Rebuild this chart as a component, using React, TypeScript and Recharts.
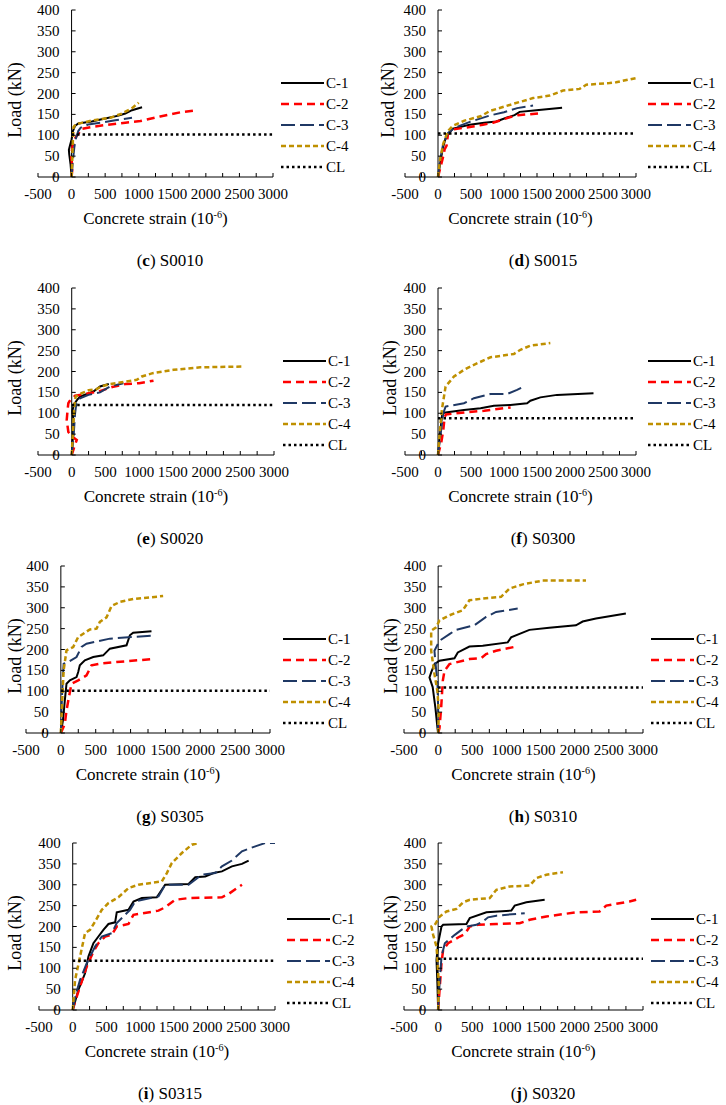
import React from 'react';
import { LineChart, Line, XAxis, YAxis, ReferenceLine } from 'recharts';

const FONT = '"Liberation Serif", "Times New Roman", serif';

// axis ticks
const xTicks = [-500, -250, 0, 250, 500, 750, 1000, 1250, 1500, 1750, 2000, 2250, 2500, 2750, 3000];
const yTicks = [0, 50, 100, 150, 200, 250, 300, 350, 400];
const seriesNames = ['C-1', 'C-2', 'C-3', 'C-4', 'CL'];

type Pt = [number, number];

// (c) S0010
const c_C1: Pt[] = [[0, 0], [-15, 30], [-35, 55], [-40, 65], [-25, 75], [0, 90], [20, 110], [50, 122], [100, 128], [300, 133], [500, 140], [700, 147], [800, 152], [900, 160], [1050, 167]];
const c_C2: Pt[] = [[0, 0], [15, 25], [-5, 45], [10, 70], [40, 90], [110, 106], [140, 115], [300, 120], [530, 125], [800, 130], [1025, 134], [1320, 145], [1620, 155], [1870, 160]];
const c_C3: Pt[] = [[0, 0], [20, 40], [40, 70], [60, 90], [100, 110], [135, 118], [250, 126], [430, 130], [650, 136], [900, 142]];
const c_C4: Pt[] = [[0, 0], [10, 40], [20, 90], [30, 120], [60, 126], [134, 129], [300, 135], [580, 142], [750, 152], [900, 165], [1000, 178]];
const c_CL = 102;

// (d) S0015
const d_C1: Pt[] = [[0, 0], [40, 40], [75, 70], [110, 90], [150, 102], [227, 116], [480, 125], [700, 130], [884, 133], [1035, 142], [1160, 148], [1237, 156], [1490, 160], [1880, 166]];
const d_C2: Pt[] = [[0, 0], [40, 25], [80, 50], [100, 66], [130, 75], [150, 102], [227, 114], [530, 121], [680, 125], [833, 130], [1085, 143], [1212, 148], [1515, 152]];
const d_C3: Pt[] = [[0, 0], [30, 40], [80, 80], [150, 105], [250, 118], [500, 133], [800, 148], [1000, 155], [1200, 165], [1440, 171]];
const d_C4: Pt[] = [[0, 0], [30, 40], [80, 80], [150, 110], [220, 122], [400, 135], [656, 146], [783, 158], [1136, 175], [1440, 189], [1692, 195], [1894, 207], [2146, 211], [2247, 221], [2600, 225], [2700, 227], [3000, 237]];
const d_CL = 104;

// (e) S0020
const e_C1: Pt[] = [[0, 0], [20, 50], [25, 84], [10, 105], [30, 120], [50, 125], [80, 132], [124, 140], [322, 152], [420, 164], [550, 170]];
const e_C2: Pt[] = [[0, 0], [50, 25], [75, 36], [40, 40], [-50, 55], [-74, 84], [-60, 110], [-50, 124], [-20, 132], [50, 142], [200, 146], [400, 152], [600, 163], [800, 170], [1000, 172], [1213, 178]];
const e_C3: Pt[] = [[0, 0], [30, 50], [50, 100], [70, 125], [124, 136], [250, 144], [420, 150], [570, 164], [767, 172]];
const e_C4: Pt[] = [[0, 0], [20, 60], [40, 120], [60, 140], [150, 148], [250, 155], [371, 158], [450, 165], [570, 170], [965, 180], [1040, 188], [1200, 196], [1510, 204], [1906, 210], [2550, 212]];
const e_CL = 120;

// (f) S0300
const f_C1: Pt[] = [[0, 0], [30, 50], [65, 100], [115, 102], [393, 108], [645, 112], [846, 118], [1098, 120], [1350, 124], [1400, 130], [1551, 138], [1803, 144], [2356, 148]];
const f_C2: Pt[] = [[0, 0], [50, 30], [80, 60], [100, 90], [120, 97], [400, 102], [700, 106], [900, 110], [1100, 114]];
const f_C3: Pt[] = [[0, 0], [40, 50], [80, 100], [115, 116], [393, 124], [544, 136], [795, 146], [1047, 146], [1198, 156], [1324, 166]];
const f_C4: Pt[] = [[0, 0], [30, 60], [60, 110], [115, 164], [242, 188], [393, 204], [544, 216], [795, 234], [1148, 242], [1249, 252], [1400, 262], [1702, 268]];
const f_CL = 88;

// (g) S0305
const g_C1: Pt[] = [[0, 0], [30, 30], [57, 78], [81, 118], [129, 126], [225, 134], [249, 146], [272, 162], [344, 174], [464, 182], [607, 186], [703, 202], [942, 210], [990, 234], [1037, 240], [1300, 244]];
const g_C2: Pt[] = [[0, 0], [57, 22], [81, 54], [120, 90], [153, 118], [249, 126], [368, 138], [440, 162], [559, 166], [798, 170], [1300, 177]];
const g_C3: Pt[] = [[0, 0], [10, 60], [25, 120], [40, 166], [105, 170], [225, 182], [296, 206], [368, 214], [703, 226], [1037, 230], [1300, 233]];
const g_C4: Pt[] = [[0, 0], [20, 80], [40, 150], [81, 198], [177, 206], [249, 230], [416, 248], [512, 250], [559, 266], [655, 277], [727, 304], [847, 314], [1037, 321], [1467, 328]];
const g_CL = 101;

// (h) S0310
const h_C1: Pt[] = [[0, 0], [-10, 12], [-40, 60], [-80, 110], [-127, 133], [-102, 145], [-54, 165], [20, 173], [239, 179], [288, 193], [458, 207], [653, 209], [1019, 217], [1068, 229], [1336, 247], [1628, 252], [2018, 258], [2116, 267], [2311, 274], [2749, 286]];
const h_C2: Pt[] = [[0, 0], [20, 12], [44, 60], [68, 125], [93, 149], [166, 165], [458, 177], [629, 179], [702, 189], [848, 197], [1141, 207]];
const h_C3: Pt[] = [[0, 0], [0, 60], [-10, 120], [-40, 170], [-54, 197], [20, 221], [166, 237], [263, 247], [531, 258], [702, 278], [848, 290], [1165, 298]];
const h_C4: Pt[] = [[0, 0], [10, 50], [-10, 100], [-54, 141], [-102, 197], [-102, 245], [-29, 253], [20, 270], [166, 282], [361, 294], [458, 318], [653, 322], [922, 326], [1044, 346], [1239, 356], [1531, 365], [2165, 365]];
const h_CL = 109;

// (i) S0315
const i_C1: Pt[] = [[0, 0], [84, 48], [183, 88], [233, 128], [307, 160], [381, 176], [455, 192], [530, 206], [629, 210], [653, 234], [827, 240], [901, 260], [1025, 268], [1247, 270], [1371, 300], [1718, 302], [1817, 318], [1965, 320], [2089, 328], [2213, 332], [2361, 344], [2510, 350], [2609, 358]];
const i_C2: Pt[] = [[0, 0], [35, 20], [109, 56], [208, 104], [307, 140], [381, 160], [480, 176], [579, 180], [653, 200], [827, 206], [901, 228], [1272, 238], [1371, 246], [1520, 264], [1718, 268], [2213, 270], [2312, 278], [2510, 300]];
const i_C3: Pt[] = [[0, 0], [50, 40], [109, 72], [208, 112], [332, 152], [431, 176], [579, 184], [653, 208], [851, 240], [926, 260], [1272, 272], [1371, 300], [1718, 300], [1916, 324], [2114, 328], [2213, 344], [2361, 358], [2510, 380], [2708, 392], [2856, 400], [3000, 400]];
const i_C4: Pt[] = [[0, 0], [35, 72], [109, 128], [183, 184], [257, 192], [332, 212], [431, 240], [530, 256], [678, 270], [827, 292], [975, 300], [1322, 308], [1396, 328], [1470, 352], [1619, 376], [1767, 396], [1866, 400]];
const i_CL = 118;

// (j) S0320
const j_C1: Pt[] = [[0, 0], [-10, 60], [-24, 120], [0, 160], [49, 200], [73, 204], [414, 206], [463, 220], [707, 234], [1072, 238], [1121, 250], [1292, 258], [1560, 264]];
const j_C2: Pt[] = [[0, 0], [24, 56], [49, 112], [73, 144], [146, 160], [317, 176], [390, 182], [463, 200], [585, 204], [853, 206], [1194, 208], [1341, 216], [1584, 224], [2023, 234], [2364, 236], [2462, 250], [2803, 260], [2900, 264]];
const j_C3: Pt[] = [[0, 0], [20, 60], [49, 128], [98, 160], [244, 180], [341, 192], [414, 200], [561, 204], [658, 212], [731, 222], [853, 226], [1268, 232]];
const j_C4: Pt[] = [[0, 0], [10, 60], [-10, 120], [-24, 152], [-73, 180], [-98, 200], [-49, 204], [24, 224], [122, 236], [268, 242], [366, 258], [463, 264], [756, 268], [853, 288], [1048, 296], [1341, 298], [1438, 316], [1584, 324], [1828, 330]];
const j_CL = 123;

const STYLES = [
  { stroke: '#000000', dash: undefined as string | undefined, width: 2 },
  { stroke: '#FF0000', dash: '8 5', width: 2.5 },
  { stroke: '#1F3864', dash: '14 5', width: 2 },
  { stroke: '#BF9000', dash: '5 3', width: 2.5 },
  { stroke: '#000000', dash: '2.5 3', width: 2.5 },
];

const toRows = (pts: Pt[]) => pts.map(([x, y]) => ({ x, y }));

const panels = [
  { id: 'c', name: 'S0010', left: 0, top: 0, plotL: 38, plotR: 273, legX: 281, legY: 83, loadX: 15, capX: 170, series: [c_C1, c_C2, c_C3, c_C4], cl: c_CL },
  { id: 'd', name: 'S0015', left: 363, top: 0, plotL: 42, plotR: 273, legX: 285, legY: 83, loadX: 25, capX: 180, series: [d_C1, d_C2, d_C3, d_C4], cl: d_CL },
  { id: 'e', name: 'S0020', left: 0, top: 278, plotL: 38, plotR: 274, legX: 283, legY: 83, loadX: 15, capX: 170, series: [e_C1, e_C2, e_C3, e_C4], cl: e_CL },
  { id: 'f', name: 'S0300', left: 363, top: 278, plotL: 42, plotR: 273, legX: 285, legY: 83, loadX: 27, capX: 180, series: [f_C1, f_C2, f_C3, f_C4], cl: f_CL },
  { id: 'g', name: 'S0305', left: 0, top: 556, plotL: 26, plotR: 270, legX: 283, legY: 83, loadX: 15, capX: 170, series: [g_C1, g_C2, g_C3, g_C4], cl: g_CL },
  { id: 'h', name: 'S0310', left: 363, top: 556, plotL: 41, plotR: 280, legX: 288, legY: 83, loadX: 28, capX: 180, series: [h_C1, h_C2, h_C3, h_C4], cl: h_CL },
  { id: 'i', name: 'S0315', left: 0, top: 833, plotL: 39, plotR: 275, legX: 287, legY: 86, loadX: 15, capX: 170, series: [i_C1, i_C2, i_C3, i_C4], cl: i_CL },
  { id: 'j', name: 'S0320', left: 363, top: 833, plotL: 41, plotR: 280, legX: 288, legY: 86, loadX: 28, capX: 180, series: [j_C1, j_C2, j_C3, j_C4], cl: j_CL },
];

const W = 363;
const H = 210;
const PLOT_TOP = 10;
const PLOT_H = 167;
const Y_AXIS_W = 20;
const X_AXIS_H = 25;

function Panel({ p }: { p: (typeof panels)[number] }) {
  const plotW = p.plotR - p.plotL;
  const axisX = p.plotL + plotW / 7;
  const axisY = PLOT_TOP + PLOT_H;
  const clRows = toRows([[0, p.cl], [3000, p.cl]]);

  const XTick = (props: any) => {
    const { x, payload } = props;
    return (
      <g>
        <line x1={x} x2={x} y1={axisY - 4} y2={axisY} stroke="#000" strokeWidth={1} />
        {payload.value % 500 === 0 && (
          <text x={x} y={axisY + 17} textAnchor="middle" dominantBaseline="central" fontSize={15} fontFamily={FONT} fill="#000">
            {payload.value}
          </text>
        )}
      </g>
    );
  };

  const YTick = (props: any) => {
    const { y, payload } = props;
    return (
      <g>
        <line x1={axisX} x2={axisX + 4} y1={y} y2={y} stroke="#000" strokeWidth={1} />
        <text x={axisX - 12} y={y} textAnchor="end" dominantBaseline="central" fontSize={15} fontFamily={FONT} fill="#000">
          {payload.value}
        </text>
      </g>
    );
  };

  return (
    <div style={{ position: 'absolute', left: p.left, top: p.top, width: W, height: 278 }}>
      <LineChart
        width={W}
        height={H}
        style={{ overflow: 'visible' }}
        margin={{ top: PLOT_TOP, left: p.plotL - Y_AXIS_W, right: W - p.plotR, bottom: H - PLOT_TOP - PLOT_H - X_AXIS_H }}
      >
        <XAxis
          type="number"
          dataKey="x"
          domain={[-500, 3000]}
          ticks={xTicks}
          interval={0}
          height={X_AXIS_H}
          allowDataOverflow
          axisLine={{ stroke: '#000', strokeWidth: 1 }}
          tickLine={false}
          tickSize={0}
          tickMargin={0}
          tick={XTick}
        />
        <YAxis
          type="number"
          domain={[0, 400]}
          ticks={yTicks}
          interval={0}
          allowDataOverflow
          width={Y_AXIS_W}
          axisLine={false}
          tickLine={false}
          tickSize={0}
          tickMargin={0}
          tick={YTick}
        />
        <ReferenceLine x={0} stroke="#000" strokeWidth={1} />
        {p.series.map((s, k) => (
          <Line
            key={k}
            data={toRows(s)}
            dataKey="y"
            type="linear"
            stroke={STYLES[k].stroke}
            strokeWidth={STYLES[k].width}
            strokeDasharray={STYLES[k].dash}
            dot={false}
            isAnimationActive={false}
          />
        ))}
        <Line
          data={clRows}
          dataKey="y"
          type="linear"
          stroke={STYLES[4].stroke}
          strokeWidth={STYLES[4].width}
          strokeDasharray={STYLES[4].dash}
          dot={false}
          isAnimationActive={false}
        />
      </LineChart>

      {/* y axis title */}
      <div
        style={{
          position: 'absolute',
          left: p.loadX,
          top: 100,
          transform: 'translate(-50%, -50%) rotate(-90deg)',
          fontFamily: FONT,
          fontSize: 18,
          whiteSpace: 'nowrap',
        }}
      >
        Load (kN)
      </div>

      {/* x axis title */}
      <div
        style={{
          position: 'absolute',
          left: (p.plotL + p.plotR) / 2,
          top: axisY + 42,
          transform: 'translate(-50%, -50%)',
          fontFamily: FONT,
          fontSize: 17,
          whiteSpace: 'nowrap',
        }}
      >
        Concrete strain (10<sup style={{ fontSize: '0.6em' }}>-6</sup>)
      </div>

      {/* caption */}
      <div
        style={{
          position: 'absolute',
          left: p.capX,
          top: axisY + 84,
          transform: 'translate(-50%, -50%)',
          fontFamily: FONT,
          fontSize: 17,
          whiteSpace: 'nowrap',
        }}
      >
        (<b>{p.id}</b>) {p.name}
      </div>

      {/* legend */}
      <svg style={{ position: 'absolute', left: p.legX, top: p.legY - 10 }} width={75} height={110}>
        {seriesNames.map((n, k) => (
          <g key={n}>
            <line
              x1={0}
              x2={43}
              y1={10 + k * 21}
              y2={10 + k * 21}
              stroke={STYLES[k].stroke}
              strokeWidth={STYLES[k].width}
              strokeDasharray={STYLES[k].dash}
            />
            <text x={45} y={10 + k * 21} dominantBaseline="central" fontSize={15} fontFamily={FONT} fill="#000">
              {n}
            </text>
          </g>
        ))}
      </svg>
    </div>
  );
}

export default function App() {
  return (
    <div style={{ position: 'absolute', left: 0, top: 0, width: 726, height: 1105, background: '#fff', overflow: 'hidden' }}>
      {panels.map((p) => (
        <Panel key={p.id} p={p} />
      ))}
    </div>
  );
}
